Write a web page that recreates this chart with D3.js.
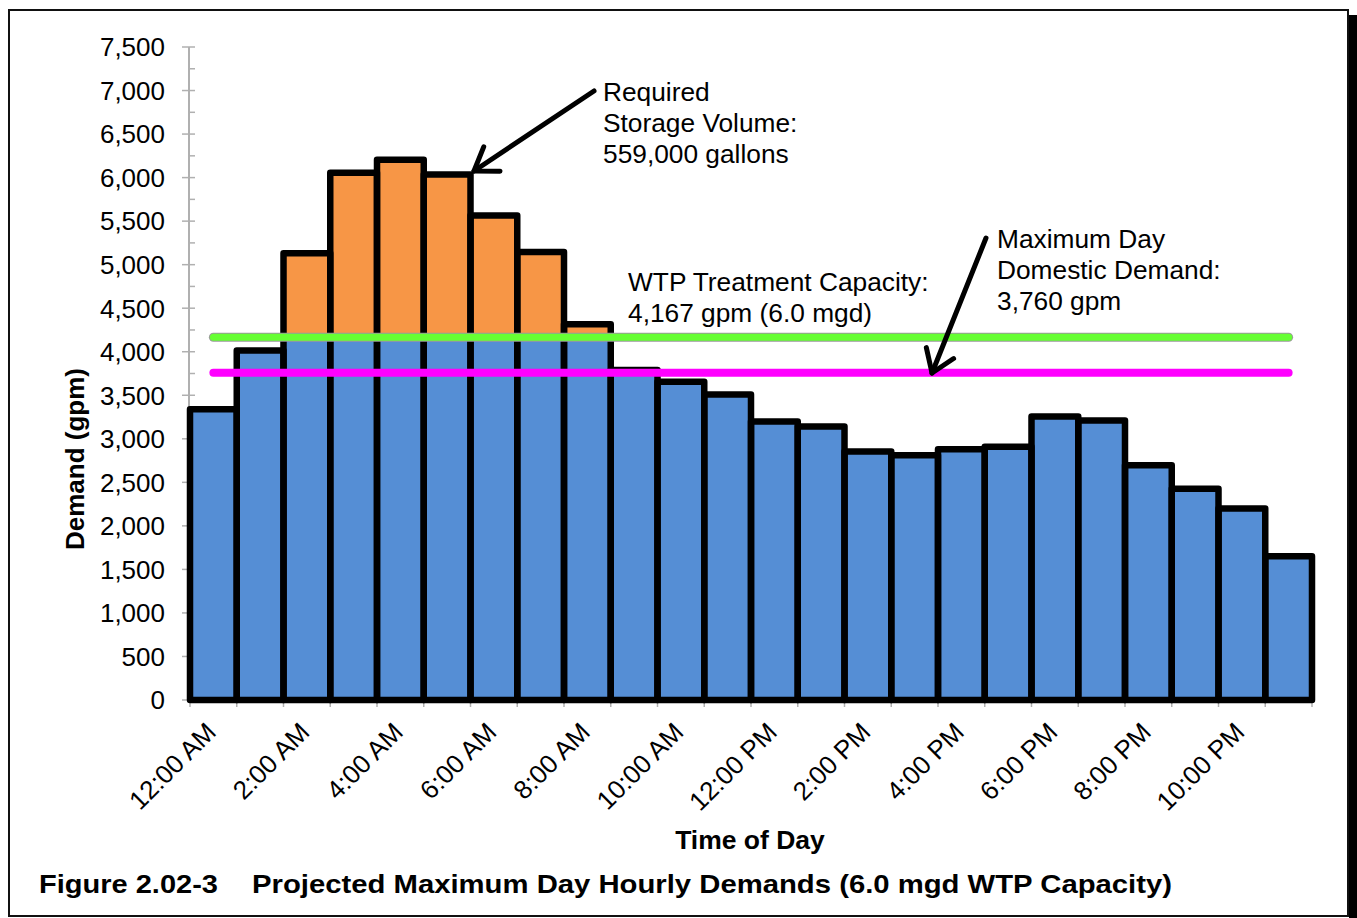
<!DOCTYPE html>
<html>
<head>
<meta charset="utf-8">
<script src="https://cdn.jsdelivr.net/npm/d3@7/dist/d3.min.js"></script>
<style>
  html, body { margin: 0; padding: 0; background: #fff; }
  svg { display: block; font-family: "Liberation Sans", Arial, sans-serif; }
</style>
</head>
<body>
<svg id="chart" width="1357" height="918"></svg>
<script>
// ---- data ----
const hours = ["12:00 AM","1:00 AM","2:00 AM","3:00 AM","4:00 AM","5:00 AM","6:00 AM","7:00 AM",
  "8:00 AM","9:00 AM","10:00 AM","11:00 AM","12:00 PM","1:00 PM","2:00 PM","3:00 PM",
  "4:00 PM","5:00 PM","6:00 PM","7:00 PM","8:00 PM","9:00 PM","10:00 PM","11:00 PM"];
const demand = [3340, 4015, 5130, 6055, 6205, 6035, 5565, 5145, 4315, 3790, 3655, 3510,
  3200, 3140, 2855, 2810, 2880, 2910, 3255, 3210, 2695, 2425, 2200, 1650];
const tickLabels = ["12:00 AM","2:00 AM","4:00 AM","6:00 AM","8:00 AM","10:00 AM",
  "12:00 PM","2:00 PM","4:00 PM","6:00 PM","8:00 PM","10:00 PM"];
const yTicks = [0,500,1000,1500,2000,2500,3000,3500,4000,4500,5000,5500,6000,6500,7000,7500];
const wtpCapacity = 4167;
const domesticDemand = 3760;
const noteStorage = ["Required", "Storage Volume:", "559,000 gallons"];
const noteWTP = ["WTP Treatment Capacity:", "4,167 gpm (6.0 mgd)"];
const noteDomestic = ["Maximum Day", "Domestic Demand:", "3,760 gpm"];
const yTitle = "Demand (gpm)";
const xTitle = "Time of Day";
const figNum = "Figure 2.02-3";
const figTitle = "Projected Maximum Day Hourly Demands (6.0 mgd WTP Capacity)";

// ---- layout ----
const svg = d3.select("#chart");
const plot = { left: 190, right: 1312, top: 47, bottom: 700 };
const x = d3.scaleBand().domain(d3.range(hours.length)).range([plot.left, plot.right]).padding(0);
const y = d3.scaleLinear().domain([0, 7500]).range([plot.bottom, plot.top]);

// frame
svg.append("rect").attr("x", 1349).attr("y", 15).attr("width", 8).attr("height", 903).attr("fill", "#000");
svg.append("rect").attr("x", 9).attr("y", 10).attr("width", 1339).attr("height", 906)
  .attr("fill", "none").attr("stroke", "#111").attr("stroke-width", 2);

// y axis
const gy = svg.append("g");
gy.append("line").attr("x1", plot.left - 1).attr("x2", plot.left - 1)
  .attr("y1", y(7500)).attr("y2", y(0)).attr("stroke", "#b0b0b0").attr("stroke-width", 2);
const minor = d3.range(250, 7500, 500);
gy.selectAll("line.minor").data(minor).join("line").attr("class", "minor")
  .attr("x1", plot.left - 1).attr("x2", plot.left + 5)
  .attr("y1", d => y(d)).attr("y2", d => y(d)).attr("stroke", "#b0b0b0").attr("stroke-width", 1.5);
gy.selectAll("line.major").data(yTicks).join("line").attr("class", "major")
  .attr("x1", plot.left - 8).attr("x2", plot.left + 5)
  .attr("y1", d => y(d)).attr("y2", d => y(d)).attr("stroke", "#b0b0b0").attr("stroke-width", 1.5);
gy.selectAll("text").data(yTicks).join("text")
  .attr("x", 165).attr("y", d => y(d)).attr("dy", "0.36em")
  .attr("text-anchor", "end").attr("font-size", 26).attr("fill", "#000")
  .text(d => d3.format(",")(d));

// x axis ticks
const bounds = d3.range(hours.length + 1).map(i => i < hours.length ? x(i) : plot.right);
svg.append("g").selectAll("line").data(bounds).join("line")
  .attr("x1", d => d).attr("x2", d => d).attr("y1", plot.bottom).attr("y2", plot.bottom + 7)
  .attr("stroke", "#b0b0b0").attr("stroke-width", 1.5);

// bars
const gb = svg.append("g");
demand.forEach((v, i) => {
  const lo = Math.min(v, wtpCapacity);
  gb.append("rect").attr("x", x(i)).attr("width", x.bandwidth())
    .attr("y", y(lo)).attr("height", y(0) - y(lo)).attr("fill", "#558ED5");
  if (v > wtpCapacity) {
    gb.append("rect").attr("x", x(i)).attr("width", x.bandwidth())
      .attr("y", y(v)).attr("height", y(wtpCapacity) - y(v)).attr("fill", "#F79646");
  }
});
demand.forEach((v, i) => {
  gb.append("rect").attr("x", x(i)).attr("width", x.bandwidth())
    .attr("y", y(v)).attr("height", y(0) - y(v))
    .attr("fill", "none").attr("stroke", "#000").attr("stroke-width", 6.5)
    .attr("stroke-linejoin", "round");
});

// x tick labels
svg.append("g").selectAll("text").data(tickLabels).join("text")
  .attr("transform", (d, i) => `translate(${x(i * 2) + 21},${plot.bottom + 27}) rotate(-45)`)
  .attr("text-anchor", "end").attr("dy", "0.36em").attr("font-size", 26).attr("fill", "#000")
  .text(d => d);

// reference lines
const xc0 = x(0) + x.bandwidth() / 2, xc1 = x(hours.length - 1) + x.bandwidth() / 2;
svg.append("line").attr("x1", xc0).attr("x2", xc1).attr("y1", y(wtpCapacity)).attr("y2", y(wtpCapacity))
  .attr("stroke", "#9a9a9a").attr("stroke-width", 9).attr("stroke-linecap", "round");
svg.append("line").attr("x1", xc0).attr("x2", xc1).attr("y1", y(wtpCapacity)).attr("y2", y(wtpCapacity))
  .attr("stroke", "#66FF33").attr("stroke-width", 7).attr("stroke-linecap", "round");
svg.append("line").attr("x1", xc0).attr("x2", xc1).attr("y1", y(domesticDemand)).attr("y2", y(domesticDemand))
  .attr("stroke", "#FF00FF").attr("stroke-width", 8).attr("stroke-linecap", "round");

// arrows
function arrow(x1, y1, x2, y2) {
  const g = svg.append("g").attr("stroke", "#000").attr("stroke-width", 5).attr("fill", "none")
    .attr("stroke-linecap", "round").attr("stroke-linejoin", "round");
  g.append("line").attr("x1", x1).attr("y1", y1).attr("x2", x2).attr("y2", y2);
  const ang = Math.atan2(y1 - y2, x1 - x2), L = 26, a = 0.6;
  g.append("path").attr("d",
    `M${x2 + L * Math.cos(ang + a)},${y2 + L * Math.sin(ang + a)} L${x2},${y2} L${x2 + L * Math.cos(ang - a)},${y2 + L * Math.sin(ang - a)}`);
}
arrow(594, 91, 474, 171);
arrow(986, 238, 932, 373);

// annotations
function note(lines, x0, y0) {
  const t = svg.append("text").attr("font-size", 26.3).attr("fill", "#000");
  lines.forEach((s, i) => t.append("tspan").attr("x", x0).attr("y", y0 + i * 31).text(s));
}
note(noteStorage, 603, 101);
note(noteWTP, 628, 291);
note(noteDomestic, 997, 248);

// axis titles
svg.append("text").attr("transform", "translate(84,459) rotate(-90)")
  .attr("text-anchor", "middle").attr("font-size", 26).attr("font-weight", "bold").text(yTitle);
svg.append("text").attr("x", 750).attr("y", 849).attr("text-anchor", "middle")
  .attr("font-size", 26.5).attr("font-weight", "bold").text(xTitle);

// caption
svg.append("text").attr("x", 39).attr("y", 893).attr("font-size", 25).attr("font-weight", "bold")
  .attr("textLength", 179).attr("lengthAdjust", "spacingAndGlyphs").text(figNum);
svg.append("text").attr("x", 252).attr("y", 893).attr("font-size", 25).attr("font-weight", "bold")
  .attr("textLength", 920).attr("lengthAdjust", "spacingAndGlyphs").text(figTitle);
</script>
</body>
</html>
